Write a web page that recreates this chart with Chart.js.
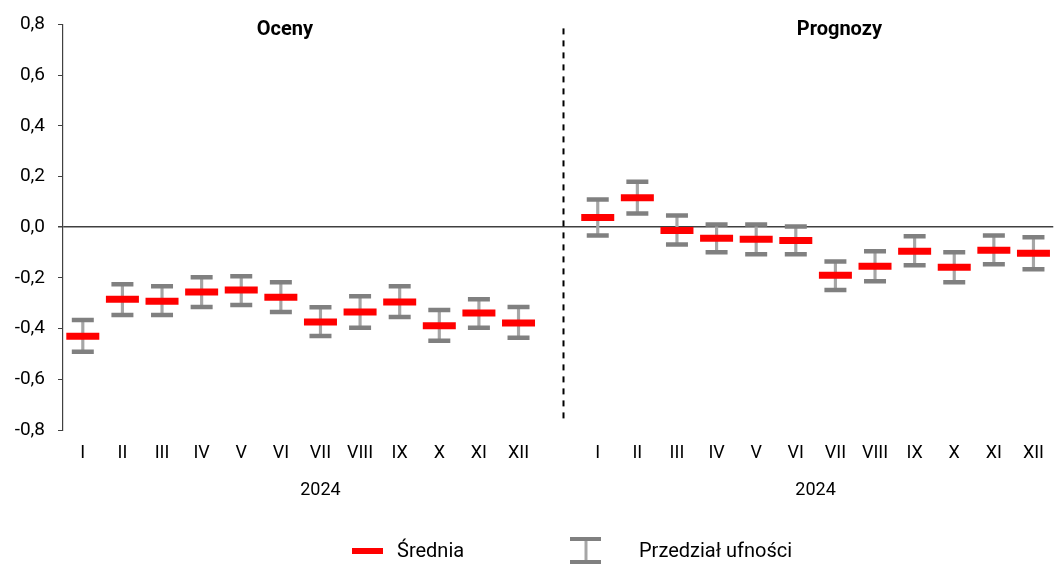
<!DOCTYPE html>
<html><head><meta charset="utf-8">
<script src="https://cdn.jsdelivr.net/npm/chart.js@4/dist/chart.umd.min.js"></script>
<style>html,body{margin:0;padding:0;background:#fff;overflow:hidden;width:1054px;height:564px}#wrap{width:1057px;height:564px;position:relative}</style>
</head><body><div id="wrap"><canvas id="c"></canvas></div>
<script>
const months = ['I','II','III','IV','V','VI','VII','VIII','IX','X','XI','XII'];
const categories = [...months, '', ...months];
const panelTitles = ['Oceny', 'Prognozy'];
const yearLabels = ['2024', '2024'];
const legendLabels = ['Średnia', 'Przedział ufności'];

const meanOceny  = [-0.430,-0.284,-0.292,-0.256,-0.248,-0.276,-0.374,-0.335,-0.295,-0.389,-0.338,-0.378];
const upperOceny = [-0.366,-0.225,-0.233,-0.197,-0.193,-0.217,-0.316,-0.272,-0.233,-0.327,-0.284,-0.315];
const lowerOceny = [-0.491,-0.346,-0.346,-0.315,-0.307,-0.335,-0.429,-0.397,-0.354,-0.448,-0.397,-0.436];

const meanPrognozy  = [0.038,0.116,-0.013,-0.044,-0.048,-0.052,-0.190,-0.154,-0.095,-0.158,-0.091,-0.103];
const upperPrognozy = [0.109,0.179,0.046,0.011,0.011,0.003,-0.135,-0.095,-0.036,-0.099,-0.033,-0.040];
const lowerPrognozy = [-0.033,0.054,-0.068,-0.099,-0.107,-0.107,-0.248,-0.213,-0.150,-0.217,-0.146,-0.166];

const yMin = -0.8, yMax = 0.8, yStep = 0.2;

const mean  = [...meanOceny, null, ...meanPrognozy];
const upper = [...upperOceny, null, ...upperPrognozy];
const lower = [...lowerOceny, null, ...lowerPrognozy];
const whisker = lower.map((l, i) => l === null ? null : [l, upper[i]]);

const FONT = 'Roboto';
const RED = '#ff0000', CAP = '#808080', STEM = '#a6a6a6';

const overlay = {
  id: 'overlay',
  afterDraw(chart) {
    const ctx = chart.ctx, x = chart.scales.x, area = chart.chartArea;
    ctx.save();
    // divider
    const dx = Math.round(x.getPixelForValue(12.13)) + 0.5;
    ctx.strokeStyle = '#000'; ctx.lineWidth = 2; ctx.setLineDash([6, 6]);
    ctx.beginPath(); ctx.moveTo(dx, area.top + 4); ctx.lineTo(dx, area.bottom - 6); ctx.stroke();
    ctx.setLineDash([]);
    // panel titles
    ctx.fillStyle = '#000';
    ctx.font = 'bold 20px ' + FONT; ctx.textAlign = 'center'; ctx.textBaseline = 'middle';
    ctx.fillText(panelTitles[0], x.getPixelForValue(5.1), 30);
    ctx.fillText(panelTitles[1], x.getPixelForValue(19.1), 30);
    // year labels
    ctx.font = '18px ' + FONT;
    ctx.fillText(yearLabels[0], x.getPixelForValue(6), 490);
    ctx.fillText(yearLabels[1], x.getPixelForValue(18.5), 490);
    // legend
    ctx.textAlign = 'left'; ctx.textBaseline = 'alphabetic'; ctx.font = '20px ' + FONT;
    ctx.strokeStyle = RED; ctx.lineWidth = 6;
    ctx.beginPath(); ctx.moveTo(352, 551); ctx.lineTo(383, 551); ctx.stroke();
    ctx.fillText(legendLabels[0], 397, 557);
    ctx.strokeStyle = STEM; ctx.lineWidth = 3;
    ctx.beginPath(); ctx.moveTo(586, 539); ctx.lineTo(586, 562); ctx.stroke();
    ctx.strokeStyle = CAP; ctx.lineWidth = 4;
    ctx.beginPath(); ctx.moveTo(570, 539); ctx.lineTo(601, 539); ctx.moveTo(570, 562); ctx.lineTo(601, 562); ctx.stroke();
    ctx.fillText(legendLabels[1], 639, 557);
    ctx.restore();
  }
};

new Chart(document.getElementById('c'), {
  type: 'bar',
  data: {
    labels: categories,
    datasets: [
      { type: 'line', label: 'Średnia', data: mean, showLine: false, order: 0,
        pointStyle: 'line', pointRadius: 16.5, pointBorderWidth: 7, pointBorderColor: RED, pointBackgroundColor: RED },
      { type: 'line', label: 'upper', data: upper, showLine: false, order: 1,
        pointStyle: 'line', pointRadius: 11, pointBorderWidth: 4.5, pointBorderColor: CAP, pointBackgroundColor: CAP },
      { type: 'line', label: 'lower', data: lower, showLine: false, order: 1,
        pointStyle: 'line', pointRadius: 11, pointBorderWidth: 4.5, pointBorderColor: CAP, pointBackgroundColor: CAP },
      { type: 'bar', label: 'Przedział ufności', data: whisker, order: 2,
        backgroundColor: STEM, borderWidth: 0, barThickness: 2.5 }
    ]
  },
  options: {
    responsive: true, maintainAspectRatio: false, animation: false, events: [],
    layout: { autoPadding: false, padding: { top: 22, right: 0, left: 0, bottom: 0 } },
    plugins: { legend: { display: false }, tooltip: { enabled: false } },
    scales: {
      x: {
        offset: true,
        grid: { display: false, drawTicks: false },
        border: { display: false },
        ticks: { color: '#000', font: { family: FONT, size: 18 }, padding: 13, autoSkip: false, maxRotation: 0 },
        afterFit: s => { s.height = 134; }
      },
      y: {
        min: yMin, max: yMax, z: 1,
        ticks: { stepSize: yStep, color: '#000', font: { family: FONT, size: 19 }, padding: 13,
          callback: v => (Math.round(v * 10) / 10).toFixed(1).replace('.', ',').replace('-0,0', '0,0') },
        grid: {
          color: c => (c.tick && Math.abs(c.tick.value) < 1e-9) ? '#404040' : 'rgba(0,0,0,0)',
          lineWidth: c => (c.tick && Math.abs(c.tick.value) < 1e-9) ? 1.5 : 1,
          tickColor: '#404040', tickLength: 5, drawTicks: true
        },
        border: { display: true, color: '#404040', width: 1.2 },
        afterFit: s => { s.width = 63; }
      }
    }
  },
  plugins: [overlay]
});
</script></body></html>
